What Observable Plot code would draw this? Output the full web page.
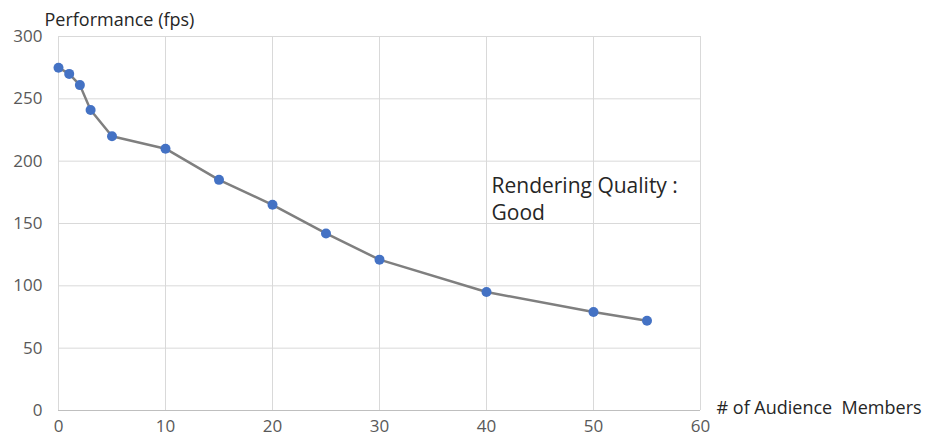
<!DOCTYPE html>
<html>
<head>
<meta charset="utf-8">
<script src="https://cdn.jsdelivr.net/npm/d3@7"></script>
<script src="https://cdn.jsdelivr.net/npm/@observablehq/plot@0.6"></script>
<style>
  html, body { margin: 0; padding: 0; background: #fff; }
  #chart svg { display: block; }
</style>
</head>
<body>
<div id="chart"></div>
<script>
const audience = [0, 1, 2, 3, 5, 10, 15, 20, 25, 30, 40, 50, 55];
const fps = [275, 270, 261, 241, 220, 210, 185, 165, 142, 121, 95, 79, 72];
const xTicks = [0, 10, 20, 30, 40, 50, 60];
const yTicks = [0, 50, 100, 150, 200, 250, 300];
const yTitle = "Performance (fps)";
const xTitle = "# of Audience  Members";
const noteLines = ["Rendering Quality :", "Good"];

const data = audience.map((a, i) => ({ a, f: fps[i] }));
const font = "'Open Sans', 'Liberation Sans', sans-serif";

const chart = Plot.plot({
  width: 928,
  height: 443,
  marginLeft: 58,
  marginRight: 228,
  marginTop: 36,
  marginBottom: 33,
  style: { fontFamily: font, background: "#fff" },
  x: { domain: [0, 60], ticks: xTicks, label: null },
  y: { domain: [0, 300], ticks: yTicks, label: null },
  marks: [
    Plot.gridX(xTicks, { stroke: "#d9d9d9", strokeOpacity: 1, strokeWidth: 1 }),
    Plot.gridY(yTicks, { stroke: "#d9d9d9", strokeOpacity: 1, strokeWidth: 1 }),
    Plot.ruleY([0], { stroke: "#bfbfbf", strokeWidth: 1.2 }),
    Plot.axisX(xTicks, { tickSize: 0, tickPadding: 9, fontSize: 17, fill: "#595959", label: null }),
    Plot.axisY(yTicks, { tickSize: 0, tickPadding: 16, fontSize: 17, fill: "#595959", label: null }),
    Plot.line(data, { x: "a", y: "f", stroke: "#7f7f7f", strokeWidth: 2.5 }),
    Plot.dot(data, { x: "a", y: "f", r: 5, fill: "#4472c4", stroke: "none" }),
    Plot.text([yTitle], { frameAnchor: "top-left", text: d => d, textAnchor: "start", lineAnchor: "middle", dx: -14, dy: -16, fontSize: 18, fill: "#262626" }),
    Plot.text([xTitle], { frameAnchor: "bottom-right", text: d => d, textAnchor: "start", lineAnchor: "middle", dx: 16, dy: -2, fontSize: 18, fill: "#262626" }),
    Plot.text([noteLines[0]], { frameAnchor: "top-left", text: d => d, textAnchor: "start", lineAnchor: "middle", dx: 433, dy: 150, fontSize: 21, fill: "#262626" }),
    Plot.text([noteLines[1]], { frameAnchor: "top-left", text: d => d, textAnchor: "start", lineAnchor: "middle", dx: 433, dy: 177, fontSize: 21, fill: "#262626" })
  ]
});
document.getElementById("chart").appendChild(chart);
</script>
</body>
</html>
